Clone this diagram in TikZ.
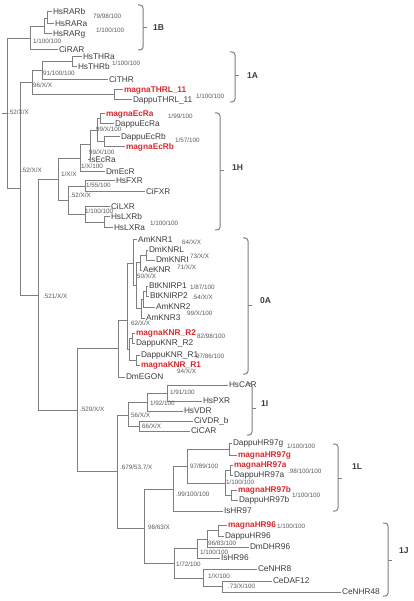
\documentclass[tikz,border=0pt]{standalone}
\usepackage{fontspec}
\setmainfont{Liberation Sans}
\definecolor{lg}{HTML}{7F7F7F}
\definecolor{tx}{HTML}{3C3C3C}
\definecolor{sg}{HTML}{5A5A5A}
\definecolor{rd}{HTML}{E3262B}
\begin{document}
\begin{tikzpicture}[x=1pt,y=-1pt,
  br/.style={draw=lg,line width=1pt},
  brk/.style={draw=lg,line width=1pt,rounded corners=3pt},
  leaf/.style={anchor=west,inner xsep=0.8pt,inner ysep=0pt,text=tx,font=\fontsize{8.3}{9}\selectfont,text height=6pt,text depth=1.5pt},
  magna/.style={leaf,text=rd,font=\bfseries\fontsize{8.3}{9}\selectfont},
  sup/.style={anchor=west,inner sep=0pt,text=sg,font=\fontsize{6.3}{7}\selectfont,text height=4.5pt,text depth=1pt},
  clade/.style={anchor=west,inner sep=0pt,text=tx,font=\bfseries\fontsize{8.5}{9}\selectfont}]
\path[use as bounding box,fill=white] (0,0) rectangle (414,601);
% ---------- leaves ----------
\node[leaf] (HsRARb) at (52,12) {HsRARb};
\node[leaf] (HsRARa) at (54,24) {HsRARa};
\node[leaf] (HsRARg) at (52,34) {HsRARg};
\node[leaf] (CiRAR) at (58,50) {CiRAR};
\node[leaf] (HsTHRa) at (82,57) {HsTHRa};
\node[leaf] (HsTHRb) at (77,67) {HsTHRb};
\node[leaf] (CiTHR) at (108,80) {CiTHR};
\node[magna] (magnaTHRL11) at (123,90) {magnaTHRL\_11};
\node[leaf] (DappuTHRL11) at (132,100) {DappuTHRL\_11};
\node[magna] (magnaEcRa) at (105,114) {magnaEcRa};
\node[leaf] (DappuEcRa) at (114,124) {DappuEcRa};
\node[leaf] (DappuEcRb) at (120,137) {DappuEcRb};
\node[magna] (magnaEcRb) at (125,147) {magnaEcRb};
\node[leaf] (IsEcRa) at (88,160) {IsEcRa};
\node[leaf] (DmEcR) at (105,172) {DmEcR};
\node[leaf] (HsFXR) at (115,181) {HsFXR};
\node[leaf] (CiFXR) at (145,192) {CiFXR};
\node[leaf] (CiLXR) at (110,207) {CiLXR};
\node[leaf] (HsLXRb) at (110,217) {HsLXRb};
\node[leaf] (HsLXRa) at (113,228) {HsLXRa};
\node[leaf] (AmKNR1) at (137,240) {AmKNR1};
\node[leaf] (DmKNRL) at (148,250) {DmKNRL};
\node[leaf] (DmKNRI) at (155,260) {DmKNRI};
\node[leaf] (AeKNR) at (142,270) {AeKNR};
\node[leaf] (BtKNIRP1) at (148,286) {BtKNIRP1};
\node[leaf] (BtKNIRP2) at (149,296) {BtKNIRP2};
\node[leaf] (AmKNR2) at (155,307) {AmKNR2};
\node[leaf] (AmKNR3) at (145,318) {AmKNR3};
\node[magna] (magnaKNRR2) at (135,333) {magnaKNR\_R2};
\node[leaf] (DappuKNRR2) at (135,343) {DappuKNR\_R2};
\node[leaf] (DappuKNRR1) at (140,355) {DappuKNR\_R1};
\node[magna] (magnaKNRR1) at (140,365) {magnaKNR\_R1};
\node[leaf] (DmEGON) at (125,377) {DmEGON};
\node[leaf] (HsCAR) at (228,385) {HsCAR};
\node[leaf] (HsPXR) at (202,401) {HsPXR};
\node[leaf] (HsVDR) at (183,411) {HsVDR};
\node[leaf] (CiVDRb) at (193,421) {CiVDR\_b};
\node[leaf] (CiCAR) at (190,431) {CiCAR};
\node[leaf] (DappuHR97g) at (232,443) {DappuHR97g};
\node[magna] (magnaHR97g) at (237,455) {magnaHR97g};
\node[magna] (magnaHR97a) at (233,465) {magnaHR97a};
\node[leaf] (DappuHR97a) at (233,475) {DappuHR97a};
\node[magna] (magnaHR97b) at (237,490) {magnaHR97b};
\node[leaf] (DappuHR97b) at (238,500) {DappuHR97b};
\node[leaf] (IsHR97) at (223,511) {IsHR97};
\node[magna] (magnaHR96) at (227,525) {magnaHR96};
\node[leaf] (DappuHR96) at (224,536) {DappuHR96};
\node[leaf] (DmDHR96) at (249,547) {DmDHR96};
\node[leaf] (IsHR96) at (220,558) {IsHR96};
\node[leaf] (CeNHR8) at (257,569) {CeNHR8};
\node[leaf] (CeDAF12) at (272,581) {CeDAF12};
\node[leaf] (CeNHR48) at (341,592) {CeNHR48};
% ---------- internal nodes ----------
\coordinate (stub) at (2,114);
\coordinate (root) at (7,114);
\coordinate (r1) at (47,18.5);
\coordinate (r2) at (44,27);
\coordinate (r3) at (30,38.5);
\coordinate (t1) at (72,62);
\coordinate (t2) at (42,71);
\coordinate (t3) at (114,95);
\coordinate (t4) at (32,83);
\coordinate (N2) at (20,189);
\coordinate (h1) at (100,119);
\coordinate (h2) at (104,142);
\coordinate (h3) at (97,130.5);
\coordinate (h4) at (90,145);
\coordinate (h5) at (80,158.5);
\coordinate (h6) at (85,186.5);
\coordinate (h7) at (104,222.5);
\coordinate (h8) at (85,215);
\coordinate (h9) at (68,200.7);
\coordinate (h10) at (58,179.6);
\coordinate (N3) at (38,295);
\coordinate (k1) at (146,255);
\coordinate (k2) at (140,262.5);
\coordinate (k3) at (146,291);
\coordinate (k4) at (143,299);
\coordinate (k5) at (141,308.5);
\coordinate (k6) at (136,285.5);
\coordinate (k7) at (133,263);
\coordinate (k8) at (132,338);
\coordinate (k9) at (136,360);
\coordinate (k10) at (129,349);
\coordinate (k11) at (127,320);
\coordinate (k12) at (118,348);
\coordinate (N4) at (77,410);
\coordinate (i1) at (167,393);
\coordinate (i2) at (147,402);
\coordinate (i3) at (139,426);
\coordinate (i4) at (128,415);
\coordinate (N5) at (117,471.5);
\coordinate (l1) at (229,449);
\coordinate (l2) at (230,470);
\coordinate (l3) at (231,495);
\coordinate (l4) at (225,483);
\coordinate (l5) at (187,466);
\coordinate (l6) at (173,489);
\coordinate (j1) at (218,530.5);
\coordinate (j2) at (207,539);
\coordinate (j3) at (197,548);
\coordinate (j4) at (203,578);
\coordinate (j5) at (222,586.5);
\coordinate (j6) at (174,563);
\coordinate (N6) at (144,528);
% ---------- branches ----------
\draw[br] (stub) -- (root);
\foreach \p/\c in {root/r3,root/N2,r3/r2,r3/CiRAR,r2/r1,r2/HsRARg,r1/HsRARb,r1/HsRARa,
  N2/t4,N2/N3,t4/t2,t4/t3,t2/t1,t2/CiTHR,t1/HsTHRa,t1/HsTHRb,t3/magnaTHRL11,t3/DappuTHRL11,
  N3/h10,N3/N4,h10/h5,h10/h9,h5/h4,h5/DmEcR,h4/h3,h4/IsEcRa,h3/h1,h3/h2,h1/magnaEcRa,h1/DappuEcRa,
  h2/DappuEcRb,h2/magnaEcRb,h9/h6,h9/h8,h6/HsFXR,h6/CiFXR,h8/CiLXR,h8/h7,h7/HsLXRb,h7/HsLXRa,
  N4/k12,N4/N5,k12/k11,k12/DmEGON,k11/k7,k11/k10,k7/AmKNR1,k7/k6,k6/k2,k6/k5,k2/k1,k2/AeKNR,
  k1/DmKNRL,k1/DmKNRI,k5/k4,k5/AmKNR3,k4/k3,k4/AmKNR2,k3/BtKNIRP1,k3/BtKNIRP2,k10/k8,k10/k9,
  k8/magnaKNRR2,k8/DappuKNRR2,k9/DappuKNRR1,k9/magnaKNRR1,
  N5/i4,N5/N6,i4/i2,i4/i3,i2/i1,i2/HsVDR,i1/HsCAR,i1/HsPXR,i3/CiVDRb,i3/CiCAR,
  N6/l6,N6/j6,l6/l5,l6/IsHR97,l5/l1,l5/l4,l1/DappuHR97g,l1/magnaHR97g,l4/l2,l4/l3,
  l2/magnaHR97a,l2/DappuHR97a,l3/magnaHR97b,l3/DappuHR97b,
  j6/j3,j6/j4,j3/j2,j3/IsHR96,j2/j1,j2/DmDHR96,j1/magnaHR96,j1/DappuHR96,j4/CeNHR8,j4/j5,
  j5/CeDAF12,j5/CeNHR48}
  \draw[br] (\p) |- (\c);
% ---------- support values ----------
\node[sup] (s1) at (93,17) {79/98/100};
\node[sup] (s2) at (96,31) {1/100/100};
\node[sup] (s3) at (33,42) {1/100/100};
\node[sup] (s4) at (112,64) {1/100/100};
\node[sup] (s5) at (43,74) {91/100/100};
\node[sup] (s6) at (33,86) {96/X/X};
\node[sup] (s7) at (196,97) {1/100/100};
\node[sup] (s8) at (8,113) {.52/X/X};
\node[sup] (s9) at (168,117) {1/99/100};
\node[sup] (s10) at (96,130) {99/X/100};
\node[sup] (s11) at (175,141) {1/57/100};
\node[sup] (s12) at (89,153) {99/X/100};
\node[sup] (s13) at (81,166.5) {1/X/100};
\node[sup] (s14) at (21,171) {.52/X/X};
\node[sup] (s15) at (61,175) {1/X/X};
\node[sup] (s16) at (86,186) {1/55/100};
\node[sup] (s17) at (70,196) {.52/X/X};
\node[sup] (s18) at (85,212) {1/100/100};
\node[sup] (s19) at (150,224) {1/100/100};
\node[sup] (s20) at (182,243) {64/X/X};
\node[sup] (s21) at (190,257) {73/X/X};
\node[sup] (s22) at (177,268) {71/X/X};
\node[sup] (s23) at (137,277) {50/X/X};
\node[sup] (s24) at (190,288) {1/87/100};
\node[sup] (s25) at (192,298) {.54/X/X};
\node[sup] (s26) at (43,297) {.521/X/X};
\node[sup] (s27) at (187,314) {99/X/100};
\node[sup] (s28) at (131,324) {62/X/X};
\node[sup] (s29) at (197,337) {82/98/100};
\node[sup] (s30) at (196,357) {97/86/100};
\node[sup] (s31) at (177,372) {94/X/X};
\node[sup] (s32) at (170,393) {1/91/100};
\node[sup] (s33) at (150,404) {1/92/100};
\node[sup] (s34) at (80,410) {.520/X/X};
\node[sup] (s35) at (131,416) {56/X/X};
\node[sup] (s36) at (142,427) {66/X/X};
\node[sup] (s37) at (287,447) {1/100/100};
\node[sup] (s38) at (120,468) {.679/53.7/X};
\node[sup] (s39) at (190,467) {97/89/100};
\node[sup] (s40) at (288,472) {.98/100/100};
\node[sup] (s41) at (226,483) {1/100/100};
\node[sup] (s42) at (176,495) {.99/100/100};
\node[sup] (s43) at (292,496) {1/100/100};
\node[sup] (s44) at (277,527) {1/100/100};
\node[sup] (s45) at (148,528) {98/63/X};
\node[sup] (s46) at (208,544) {96/83/100};
\node[sup] (s47) at (200,553) {1/100/100};
\node[sup] (s48) at (176,565) {1/72/100};
\node[sup] (s49) at (208,577) {1/X/100};
\node[sup] (s50) at (228,587) {.73/X/100};
% ---------- clade brackets ----------
\foreach \n/\x/\t/\b/\m/\ly/\lx/\lab in {B1/143/5/50/28/28/153/1B, A1/235/52/102/76/76/247/1A,
   H1/220/113/230/171/168/232/1H, A0/248/238/374/305/301/260/0A, I1/252/383/435/408/404/261/1I,
   L1/338/444/511/478/467/352/1L, J1/388/523/596/560/551/399/1J}{
  \coordinate (\n t) at (\x-5,\t);
  \coordinate (\n m) at (\x,\m);
  \coordinate (\n b) at (\x-5,\b);
  \draw[brk] (\n t) -| (\n m) |- (\n b);
  \draw[br] (\n m) -- ++(4,0);
  \node[clade] (\n lab) at (\lx,\ly) {\lab};
}
\end{tikzpicture}
\end{document}
